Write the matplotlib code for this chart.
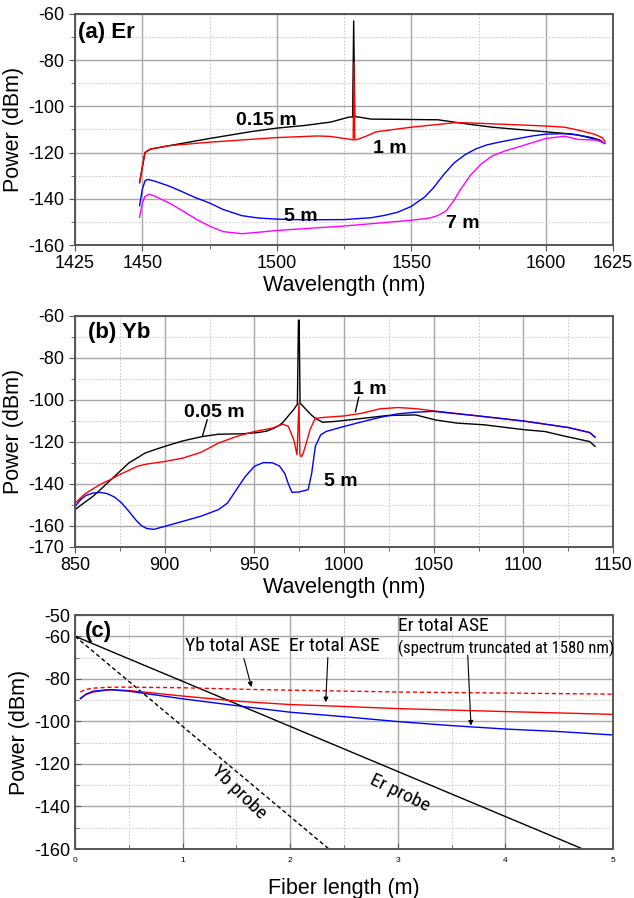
import matplotlib
matplotlib.use("Agg")
import matplotlib.pyplot as plt
from matplotlib.ticker import MultipleLocator, FixedLocator

plt.rcParams['font.family'] = ['Liberation Sans', 'DejaVu Sans']
plt.rcParams['axes.unicode_minus'] = False
NARROW = ['Roboto Condensed', 'Liberation Sans', 'DejaVu Sans']

# ---------------- Panel (a) Er ----------------
er_015_x = [1449, 1451, 1453, 1460, 1475, 1490, 1500, 1510, 1520, 1527, 1528.2, 1528.6, 1529.0, 1530, 1535, 1545, 1560, 1570, 1580, 1590, 1600, 1610, 1617, 1620, 1622]
er_015_y = [-133, -120, -118.5, -117, -113.9, -111, -109.4, -108.3, -106.8, -104.6, -104.6, -63, -104.5, -104.5, -105.5, -105.6, -105.8, -107.5, -109, -110, -111, -112, -113.5, -114.5, -116]
er_1_x = [1449, 1451, 1453, 1460, 1475, 1500, 1515, 1520, 1527.5, 1528.4, 1528.7, 1529.0, 1530, 1533, 1537, 1550, 1560, 1567, 1575, 1590, 1600, 1607, 1613, 1618, 1621, 1622]
er_1_y = [-133, -120, -118.5, -117, -115.5, -113.5, -112.8, -113, -114.3, -114.5, -81, -114.5, -114.3, -113, -111, -109, -107.8, -107, -107.3, -108, -108.5, -109, -110.5, -112, -113.5, -115]
er_5_x = [1449, 1450, 1451, 1452, 1455, 1460, 1465, 1470, 1475, 1480, 1487, 1493, 1500, 1510, 1525, 1535, 1540, 1545, 1550, 1555, 1558, 1562, 1566, 1570, 1574, 1578, 1583, 1588, 1595, 1600, 1607, 1612, 1615, 1619, 1622]
er_5_y = [-143, -136, -132.3, -131.6, -132.5, -134.5, -137, -139.6, -141.8, -144.6, -147.3, -148.3, -148.8, -149.1, -149.0, -148.2, -147.2, -145.8, -143.3, -139.2, -135.6, -129.6, -124.4, -120.9, -118.4, -116.7, -115.4, -114.3, -112.8, -112.0, -111.8, -112.4, -113.2, -114.5, -116]
er_7_x = [1449, 1450, 1451, 1452.5, 1455, 1460, 1465, 1470, 1475, 1480, 1487, 1495, 1500, 1525, 1550, 1557, 1560, 1563, 1566, 1568, 1572, 1576, 1580, 1585, 1590, 1600, 1607, 1612, 1619, 1622]
er_7_y = [-148, -142, -139, -138, -139, -141.8, -145.2, -148.8, -151.8, -154.2, -155.1, -154.3, -153.7, -151.8, -149.3, -148.3, -147.2, -145.2, -140.5, -136.5, -129.8, -124.9, -121.5, -119.2, -117.5, -113.9, -112.9, -114.3, -114.6, -116]

# ---------------- Panel (b) Yb ----------------
yb_005_x = [850, 855, 860, 865, 870, 875, 880, 885, 889, 895, 900, 910, 921, 930, 943, 952, 957, 961, 964, 966, 969, 972, 974, 974.6, 975.0, 975.5, 977, 979, 982, 984, 988, 995, 1011, 1024, 1040, 1051, 1063, 1078, 1101, 1112, 1124, 1137, 1140]
yb_005_y = [-152.2, -149, -145.9, -142, -138, -134, -130, -127.4, -125.3, -123.5, -122.1, -119.5, -117.4, -116.3, -116.1, -115.5, -114.8, -113.4, -112, -110.6, -107.5, -104.5, -102, -62, -62, -101.5, -102.8, -104.7, -107.3, -108.7, -110.6, -110.2, -108.7, -107.4, -107.1, -109.5, -111, -111.8, -114.2, -115, -117.4, -119.8, -122.1]
yb_1_x = [850, 855, 860, 865, 870, 875, 880, 885, 890, 900, 910, 920, 925, 930, 940, 950, 960, 966, 969, 972, 973.8, 974.9, 975.4, 976.2, 977, 979, 981, 984, 990, 1000, 1010, 1020, 1030, 1040, 1050, 1075, 1100, 1125, 1137, 1140]
yb_1_y = [-149.1, -145.1, -142.3, -139.8, -137.8, -135.5, -133.5, -131.5, -130.5, -129.3, -127.7, -125, -122.8, -120.5, -117.4, -115, -113.4, -111.5, -112.6, -119, -126.1, -101.5, -126, -127, -126, -120.5, -114.2, -108.7, -108.2, -107.6, -106.3, -104.2, -103.6, -104.1, -105.2, -107.6, -110, -113.1, -115.5, -117.7]
yb_5_x = [850, 853, 856, 860, 864, 868, 872, 876, 880, 884, 887, 890, 894, 900, 910, 920, 930, 935, 940, 945, 950, 955, 960, 964, 967, 969, 971, 975, 980, 982, 984, 987, 990, 1000, 1010, 1020, 1030, 1040, 1050, 1075, 1100, 1125, 1137, 1140]
yb_5_y = [-150.7, -147.6, -145.5, -144.3, -144.0, -144.6, -146.2, -149.0, -153.0, -157.2, -159.8, -161.2, -161.6, -160.2, -157.8, -155.4, -152.2, -149.1, -142.7, -136.4, -131.6, -129.8, -129.9, -131.4, -135.0, -140.0, -144.0, -143.8, -142.7, -134.8, -122.1, -116.6, -115, -112.6, -110.4, -108.3, -106.6, -105.8, -105.4, -107.6, -110, -113.1, -115.5, -117.7]

# ---------------- Panel (c) fiber length ----------------
er_probe_x = [0, 4.72]
er_probe_y = [-60, -160]
yb_probe_x = [0, 2.36]
yb_probe_y = [-60, -160]
yb_ase_x = [0.05, 0.1, 0.17, 0.3, 0.43, 1.0, 1.63, 3.0, 4.0, 5.0]
yb_ase_y = [-86.2, -85.0, -84.4, -84.0, -83.9, -84.2, -85.0, -86.2, -86.7, -87.2]
er_ase_x = [0.05, 0.1, 0.17, 0.32, 0.5, 0.75, 1.0, 1.56, 2.0, 2.5, 3.0, 4.0, 5.0]
er_ase_y = [-89.1, -87.4, -86.2, -85.1, -85.5, -86.8, -88.1, -90.7, -92.1, -93.0, -94.0, -95.4, -96.7]
er_trunc_x = [0.05, 0.1, 0.17, 0.32, 0.5, 0.75, 1.0, 1.56, 2.0, 2.5, 3.0, 3.5, 4.0, 4.5, 5.0]
er_trunc_y = [-89.4, -87.3, -85.8, -85.1, -85.8, -87.6, -89.4, -93.0, -95.7, -97.8, -100.1, -102.0, -103.6, -104.8, -106.4]

W, H = 634, 898
fig = plt.figure(figsize=(W / 100, H / 100), dpi=100)

def box(l, t, r, b):
    return [l / W, 1 - b / H, (r - l) / W, (b - t) / H]

axA = fig.add_axes(box(75, 14, 613, 245))
axB = fig.add_axes(box(75, 316, 613, 547))
axC = fig.add_axes(box(75, 615, 613, 849))

def style(ax):
    ax.grid(True, which='major', color='#a8a8a8', lw=1.0, ls='-')
    ax.grid(True, which='minor', color='#cccccc', lw=0.8, ls=(0, (1.5, 1.5)))
    ax.set_axisbelow(True)
    for s in ax.spines.values():
        s.set_color('#555555')
        s.set_linewidth(1.4)
    ax.tick_params(which='both', color='#555555')

lw = 1.0
TICK = 13
LAB = 15.5
CURVE = 14

# Panel a
axA.plot(er_015_x, er_015_y, color='black', lw=lw)
axA.plot(er_1_x, er_1_y, color='red', lw=lw)
axA.plot(er_5_x, er_5_y, color='blue', lw=lw)
axA.plot(er_7_x, er_7_y, color='magenta', lw=lw)
axA.set_xlim(1425, 1625)
axA.set_ylim(-160, -60)
axA.xaxis.set_major_locator(FixedLocator([1425, 1450, 1500, 1550, 1600, 1625]))
axA.xaxis.set_minor_locator(FixedLocator([1475, 1525, 1575]))
axA.yaxis.set_major_locator(MultipleLocator(20))
axA.yaxis.set_minor_locator(MultipleLocator(10))
style(axA)
axA.tick_params(axis='both', which='major', labelsize=TICK, length=4, direction='out')
axA.tick_params(axis='both', which='minor', length=3, direction='out')
axA.set_xlabel('Wavelength (nm)', fontsize=LAB, labelpad=2)
axA.set_ylabel('Power (dBm)', fontsize=LAB, labelpad=3)
axA.text(1426, -68, '(a) Er', fontsize=16, fontweight='bold', va='center', ha='left')
axA.text(1496, -106, '0.15 m', fontsize=CURVE, fontweight='bold', ha='center', va='center')
axA.text(1542, -118.2, '1 m', fontsize=CURVE, fontweight='bold', ha='center', va='center')
axA.text(1509, -147.5, '5 m', fontsize=CURVE, fontweight='bold', ha='center', va='center')
axA.text(1569, -150.7, '7 m', fontsize=CURVE, fontweight='bold', ha='center', va='center')

# Panel b
axB.plot(yb_005_x, yb_005_y, color='black', lw=lw)
axB.plot(yb_1_x, yb_1_y, color='red', lw=lw)
axB.plot(yb_5_x, yb_5_y, color='blue', lw=lw)
axB.set_xlim(850, 1150)
axB.set_ylim(-170, -60)
axB.xaxis.set_major_locator(MultipleLocator(50))
axB.xaxis.set_minor_locator(MultipleLocator(25))
axB.yaxis.set_major_locator(FixedLocator([-60, -80, -100, -120, -140, -160, -170]))
axB.yaxis.set_minor_locator(FixedLocator([-70, -90, -110, -130, -150]))
style(axB)
axB.tick_params(axis='both', which='major', labelsize=TICK, length=4, direction='out')
axB.tick_params(axis='both', which='minor', length=3, direction='out')
axB.set_xlabel('Wavelength (nm)', fontsize=LAB, labelpad=2)
axB.set_ylabel('Power (dBm)', fontsize=LAB, labelpad=3)
axB.text(857, -67.8, '(b) Yb', fontsize=16, fontweight='bold', va='center', ha='left')
axB.text(927.5, -106, '0.05 m', fontsize=CURVE, fontweight='bold', ha='center', va='center')
axB.plot([923.7, 921], [-109.5, -117.4], color='black', lw=1.0)
axB.text(1014.3, -95.2, '1 m', fontsize=CURVE, fontweight='bold', ha='center', va='center')
axB.plot([1008.2, 1006.4], [-98.7, -105.5], color='black', lw=1.0)
axB.text(998, -138.8, '5 m', fontsize=CURVE, fontweight='bold', ha='center', va='center')

# Panel c
axC.plot(er_probe_x, er_probe_y, color='black', lw=lw)
axC.plot(yb_probe_x, yb_probe_y, color='black', lw=lw, ls=(0, (3, 2)))
axC.plot(yb_ase_x, yb_ase_y, color='red', lw=lw, ls=(0, (3, 2)))
axC.plot(er_ase_x, er_ase_y, color='red', lw=lw)
axC.plot(er_trunc_x, er_trunc_y, color='blue', lw=lw)
axC.set_xlim(0, 5)
axC.set_ylim(-160, -50)
axC.xaxis.set_major_locator(MultipleLocator(1))
axC.xaxis.set_minor_locator(MultipleLocator(0.5))
axC.yaxis.set_major_locator(FixedLocator([-50, -60, -80, -100, -120, -140, -160]))
axC.yaxis.set_minor_locator(FixedLocator([-70, -90, -110, -130, -150]))
style(axC)
axC.tick_params(axis='x', which='major', labelsize=6, length=4, direction='in', pad=6)
axC.tick_params(axis='y', which='major', labelsize=TICK, length=4, direction='in')
axC.tick_params(axis='both', which='minor', length=3, direction='in')
axC.set_xlabel('Fiber length (m)', fontsize=LAB, labelpad=10)
axC.set_ylabel('Power (dBm)', fontsize=LAB, labelpad=3)
axC.text(0.09, -57.9, '(c)', fontsize=16, fontweight='bold', va='center', ha='left')
axC.text(1.46, -64.7, 'Yb total ASE', fontsize=14, family=NARROW, ha='center', va='center')
axC.text(2.41, -64.7, 'Er total ASE', fontsize=14, family=NARROW, ha='center', va='center')
axC.text(3.0, -55.2, 'Er total ASE', fontsize=14, family=NARROW, ha='left', va='center')
axC.text(3.0, -65.8, '(spectrum truncated at 1580 nm)', fontsize=12, family=NARROW, ha='left', va='center')
arrow = dict(arrowstyle='-|>', color='black', lw=0.8, mutation_scale=7, shrinkA=0, shrinkB=0)
axC.annotate('', xy=(1.64, -83.9), xytext=(1.57, -70.5), arrowprops=arrow)
axC.annotate('', xy=(2.33, -91.0), xytext=(2.35, -70.0), arrowprops=arrow)
axC.annotate('', xy=(3.68, -102.0), xytext=(3.65, -68.9), arrowprops=arrow)
axC.text(1.52, -133.5, 'Yb probe', fontsize=14, family=NARROW, rotation=-44, ha='center', va='center')
axC.text(3.02, -133.5, 'Er probe', fontsize=14, family=NARROW, rotation=-26, ha='center', va='center')

fig.savefig('out.png', dpi=100)
